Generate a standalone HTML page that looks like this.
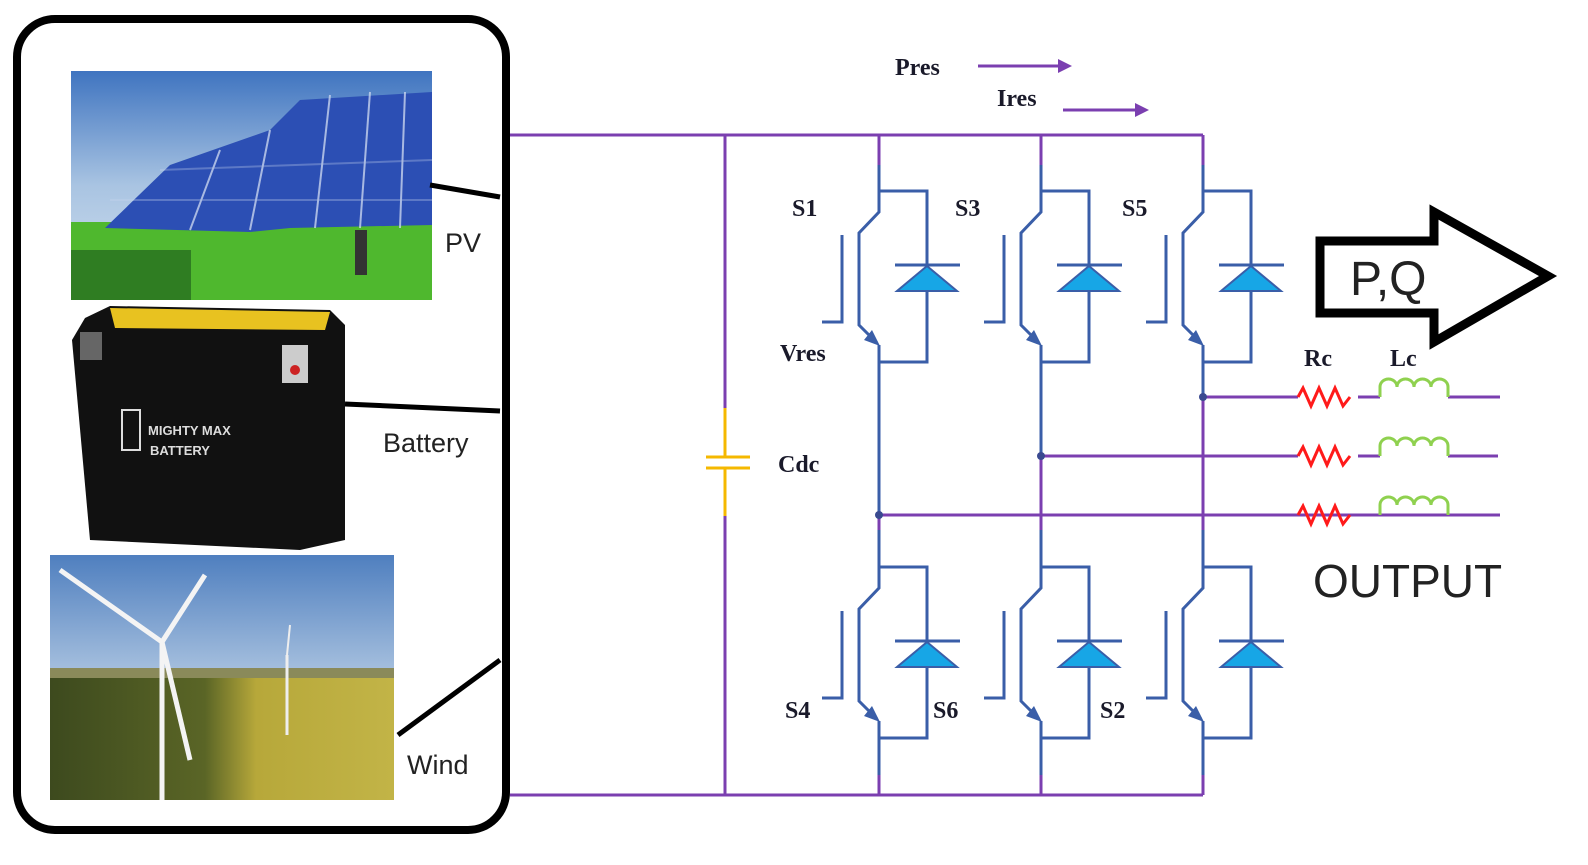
<!DOCTYPE html>
<html><head><meta charset="utf-8"><style>
html,body{margin:0;padding:0;background:#fff;overflow:hidden;width:1588px;height:865px;}
svg{display:block;}
.lbl{font-family:"Liberation Serif",serif;font-weight:bold;font-size:24px;fill:#1a1a2a;}
.sans{font-family:"Liberation Sans",sans-serif;fill:#222;}
</style></head><body>
<svg width="1588" height="865" viewBox="0 0 1588 865" xmlns="http://www.w3.org/2000/svg">
<defs>
<linearGradient id="sky" x1="0" y1="0" x2="0" y2="1"><stop offset="0" stop-color="#3f74c0"/><stop offset="0.5" stop-color="#a9c4e2"/><stop offset="1" stop-color="#d5e2ef"/></linearGradient>
<linearGradient id="sky2" x1="0" y1="0" x2="0" y2="1"><stop offset="0" stop-color="#4f7fbf"/><stop offset="0.6" stop-color="#bcd0e6"/><stop offset="1" stop-color="#e6ecf0"/></linearGradient>
<linearGradient id="field" x1="0" y1="0" x2="1" y2="0"><stop offset="0" stop-color="#3d4a1e"/><stop offset="0.45" stop-color="#5a6526"/><stop offset="0.6" stop-color="#b7a83a"/><stop offset="1" stop-color="#c2b447"/></linearGradient>
<g id="sw" fill="none" stroke="#3a5ea8" stroke-width="3">
 <path d="M879,165 V212 L859,233 V325 L877,343"/>
 <path d="M879,191 H927 V362 H879 V345"/>
 <path d="M895,265 H960"/>
 <polygon points="927,266 897,291 957,291" fill="#17a6e6" stroke="#3a5ea8" stroke-width="2"/>
 <path d="M842,235 V322 H822"/>
 <polygon points="880,346 864,340 872,330" fill="#3a5ea8" stroke="none"/>
</g>
</defs>

<rect x="17" y="19" width="489" height="811" rx="38" fill="#fff" stroke="#000" stroke-width="8"/>
<rect x="71" y="71" width="361" height="229" fill="url(#sky)"/>
<rect x="71" y="222" width="361" height="78" fill="#4fb82e"/>
<rect x="71" y="250" width="120" height="50" fill="#2f7d22"/>
<polygon points="105,228 170,165 270,130 300,100 432,92 432,225 290,228 250,232" fill="#2c4fb4"/>
<g stroke="#c8d4ee" stroke-width="2" opacity="0.8">
<line x1="330" y1="95" x2="315" y2="228"/><line x1="370" y1="92" x2="360" y2="228"/><line x1="405" y1="92" x2="400" y2="228"/><line x1="270" y1="130" x2="250" y2="230"/><line x1="220" y1="150" x2="190" y2="230"/>
<line x1="110" y1="200" x2="432" y2="200" opacity="0.4"/><line x1="160" y1="170" x2="432" y2="160" opacity="0.4"/>
</g>
<rect x="355" y="230" width="12" height="45" fill="#333"/>
<polygon points="85,318 110,306 330,310 345,325 345,540 300,550 90,540 72,340" fill="#111"/>
<polygon points="110,308 330,312 325,330 115,328" fill="#e8c220"/>
<rect x="80" y="332" width="22" height="28" fill="#666"/>
<rect x="282" y="345" width="26" height="38" fill="#ccc"/>
<circle cx="295" cy="370" r="5" fill="#c22"/>
<rect x="122" y="410" width="18" height="40" fill="none" stroke="#ddd" stroke-width="2"/>
<text x="148" y="435" font-family="Liberation Sans,sans-serif" font-size="13" font-weight="bold" fill="#ddd">MIGHTY MAX</text>
<text x="150" y="455" font-family="Liberation Sans,sans-serif" font-size="13" font-weight="bold" fill="#ddd">BATTERY</text>
<rect x="50" y="555" width="344" height="245" fill="url(#sky2)"/>
<rect x="50" y="672" width="344" height="128" fill="url(#field)"/>
<rect x="50" y="668" width="344" height="10" fill="#8a8a5a"/>
<g stroke="#f4f4f4" stroke-width="5" fill="none">
<line x1="162" y1="642" x2="162" y2="800"/><line x1="162" y1="642" x2="60" y2="570"/><line x1="162" y1="642" x2="205" y2="575"/><line x1="162" y1="642" x2="190" y2="760"/>
</g>
<line x1="287" y1="655" x2="287" y2="735" stroke="#eee" stroke-width="3"/>
<line x1="287" y1="655" x2="290" y2="625" stroke="#eee" stroke-width="2"/>
<g stroke="#000" stroke-width="5"><line x1="430" y1="185" x2="500" y2="197"/><line x1="345" y1="404" x2="500" y2="411"/><line x1="398" y1="735" x2="500" y2="660"/></g>
<text x="445" y="252" class="sans" font-size="27">PV</text>
<text x="383" y="452" class="sans" font-size="27">Battery</text>
<text x="407" y="774" class="sans" font-size="27">Wind</text>

<g stroke="#7b3fb0" stroke-width="3" fill="none">
<path d="M510,135 H1203"/><path d="M510,795 H1203"/>
<path d="M725,135 V408"/><path d="M725,516 V795"/>
<path d="M879,135 V165"/><path d="M1041,135 V165"/><path d="M1203,135 V165"/>
<path d="M879,515 H1500"/><path d="M1041,456 H1298"/><path d="M1203,397 H1298"/>
<path d="M879,515 V541"/><path d="M1041,456 V541"/><path d="M1203,397 V541"/>
<path d="M879,775 V795"/><path d="M1041,775 V795"/><path d="M1203,775 V795"/>
<path d="M1358,397 H1380"/><path d="M1358,456 H1380"/><path d="M1358,515 H1380"/>
<path d="M1448,397 H1500"/><path d="M1448,456 H1498"/><path d="M1448,515 H1498"/>
<path d="M978,66 H1068"/><path d="M1063,110 H1143"/>
</g>
<polygon points="1072,66 1058,59 1058,73" fill="#7b3fb0"/>
<polygon points="1149,110 1135,103 1135,117" fill="#7b3fb0"/>
<g stroke="#f5b800" stroke-width="3"><path d="M725,408 V457"/><path d="M725,468 V516"/><path d="M706,457 H750"/><path d="M706,468 H750"/></g>
<g stroke="#3a5ea8" stroke-width="3"><path d="M879,362 V515"/><path d="M1041,362 V456"/><path d="M1203,362 V397"/>
<path d="M879,738 V775"/><path d="M1041,738 V775"/><path d="M1203,738 V775"/></g>
<use href="#sw"/><use href="#sw" transform="translate(162,0)"/><use href="#sw" transform="translate(324,0)"/>
<use href="#sw" transform="translate(0,376)"/><use href="#sw" transform="translate(162,376)"/><use href="#sw" transform="translate(324,376)"/>
<g stroke="#3a5ea8" stroke-width="3"><path d="M879,515 V567"/><path d="M1041,456 V567"/><path d="M1203,397 V567"/></g>
<g stroke="#7b3fb0" stroke-width="3"><path d="M879,515 V530"/><path d="M1041,456 V530"/><path d="M1203,397 V530"/></g>
<circle cx="879" cy="515" r="4" fill="#3a4a90"/><circle cx="1041" cy="456" r="4" fill="#3a4a90"/><circle cx="1203" cy="397" r="4" fill="#3a4a90"/>
<g fill="none" stroke-width="3">
<path d="M1298,397 l5,-9 l8,18 l8,-18 l8,18 l8,-18 l8,18 l7,-9" stroke="#ff1a1a"/>
<path d="M1298,456 l5,-9 l8,18 l8,-18 l8,18 l8,-18 l8,18 l7,-9" stroke="#ff1a1a"/>
<path d="M1298,515 l5,-9 l8,18 l8,-18 l8,18 l8,-18 l8,18 l7,-9" stroke="#ff1a1a"/>
<path d="M1380,397 v-10 a8.5,8 0 0 1 17,0 a8.5,8 0 0 1 17,0 a8.5,8 0 0 1 17,0 a8.5,8 0 0 1 17,0 v10" stroke="#8fd14f"/>
<path d="M1380,456 v-10 a8.5,8 0 0 1 17,0 a8.5,8 0 0 1 17,0 a8.5,8 0 0 1 17,0 a8.5,8 0 0 1 17,0 v10" stroke="#8fd14f"/>
<path d="M1380,515 v-10 a8.5,8 0 0 1 17,0 a8.5,8 0 0 1 17,0 a8.5,8 0 0 1 17,0 a8.5,8 0 0 1 17,0 v10" stroke="#8fd14f"/>
</g>
<text x="895" y="75" class="lbl">Pres</text>
<text x="997" y="106" class="lbl">Ires</text>
<text x="792" y="216" class="lbl">S1</text>
<text x="955" y="216" class="lbl">S3</text>
<text x="1122" y="216" class="lbl">S5</text>
<text x="780" y="361" class="lbl">Vres</text>
<text x="778" y="472" class="lbl">Cdc</text>
<text x="785" y="718" class="lbl">S4</text>
<text x="933" y="718" class="lbl">S6</text>
<text x="1100" y="718" class="lbl">S2</text>
<text x="1304" y="366" class="lbl">Rc</text>
<text x="1390" y="366" class="lbl">Lc</text>
<polygon points="1320,241 1434,241 1434,212 1548,276 1434,342 1434,313 1320,313" fill="#fff" stroke="#000" stroke-width="9" stroke-linejoin="miter"/>
<text x="1350" y="295" class="sans" font-size="48" fill="#000">P,Q</text>
<text x="1313" y="597" class="sans" font-size="46" fill="#000">OUTPUT</text>
</svg>
</body></html>
